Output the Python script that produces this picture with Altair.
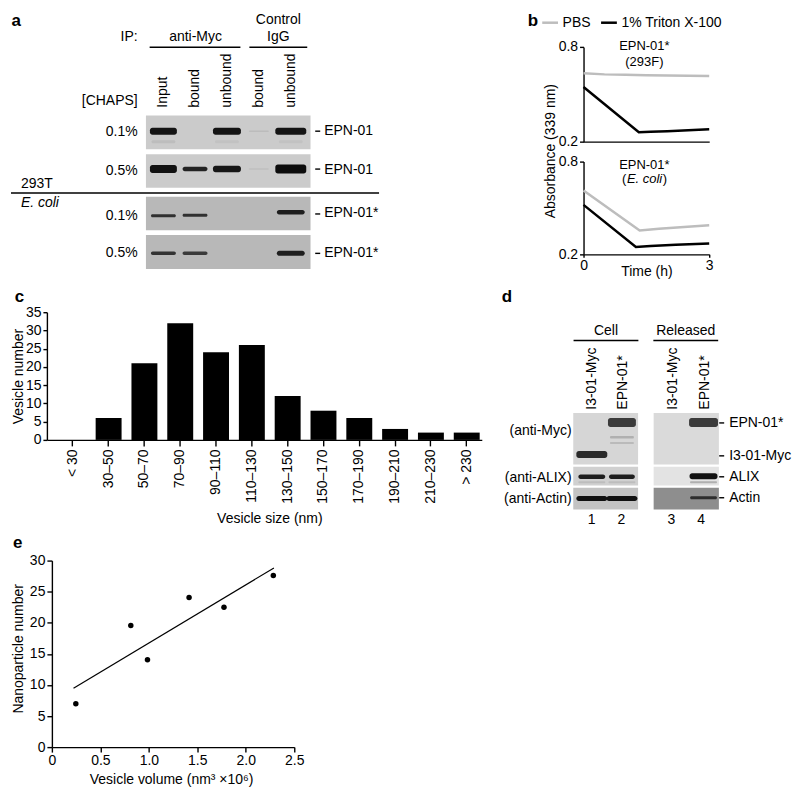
import altair as alt
import pandas as pd

FONT = "Liberation Sans"
FS = 14

# ================= DATA =================
# ---- panel b : absorbance (339 nm) vs time (h) ----
B_SERIES = ["PBS", "1% Triton X-100"]
b_top_pbs_t = [0, 0.5, 1.0, 1.5, 2.0, 2.5, 3.0]
b_top_pbs_abs = [0.633, 0.626, 0.623, 0.621, 0.619, 0.618, 0.616]
b_top_tx_t = [0, 1.32, 1.6, 2.0, 2.5, 3.0]
b_top_tx_abs = [0.546, 0.259, 0.262, 0.266, 0.272, 0.278]
b_bot_pbs_t = [0, 1.34, 1.8, 2.4, 3.0]
b_bot_pbs_abs = [0.613, 0.355, 0.365, 0.377, 0.388]
b_bot_tx_t = [0, 1.25, 1.6, 2.2, 3.0]
b_bot_tx_abs = [0.520, 0.248, 0.254, 0.262, 0.270]

# ---- panel c : vesicle size histogram ----
size_bins = ["< 30", "30–50", "50–70", "70–90", "90–110", "110–130", "130–150",
             "150–170", "170–190", "190–210", "210–230", "> 230"]
vesicle_counts = [0, 6, 21, 32, 24, 26, 12, 8, 6, 3, 2, 2]

# ---- panel e : nanoparticles vs vesicle volume ----
vesicle_volume = [0.247, 0.814, 0.986, 1.415, 1.775, 2.284]
nanoparticle_number = [6.97, 19.56, 14.04, 24.05, 22.5, 27.59]

# ---- panel a : blot annotations and band intensities ----
a_lane_names = ["Input", "bound", "unbound", "bound", "unbound"]
a_chaps = ["0.1%", "0.5%", "0.1%", "0.5%"]
a_band_names = ["EPN-01", "EPN-01", "EPN-01*", "EPN-01*"]
a_band_row = [0, 0, 0, 0, 0, 0, 0, 1, 1, 1, 1, 1, 2, 2, 2, 3, 3, 3]
a_band_lane = [0, 2, 3, 4, 0, 2, 4, 0, 1, 2, 3, 4, 0, 1, 4, 0, 1, 4]
a_band_shade = ["#141414", "#141414", "#bcbcbc", "#141414", "#bdbdbd", "#c2c2c2", "#c2c2c2",
                "#111111", "#222222", "#161616", "#c0c0c0", "#0c0c0c",
                "#303030", "#303030", "#1e1e1e", "#333333", "#3a3a3a", "#1e1e1e"]

# ---- panel d : blot annotations and band intensities ----
d_lane_names = ["I3-01-Myc", "EPN-01*", "I3-01-Myc", "EPN-01*"]
d_lane_numbers = ["1", "2", "3", "4"]
d_row_names = ["(anti-Myc)", "(anti-ALIX)", "(anti-Actin)"]
d_band_names = ["EPN-01*", "I3-01-Myc", "ALIX", "Actin"]
d_band_lane = [0, 1, 1, 1, 3, 0, 1, 3, 0, 1, 3, 0, 1, 3]
d_band_shade = ["#2a2a2a", "#3b3b3b", "#b0b0b0", "#bababa", "#3b3b3b",
                "#1e1e1e", "#1e1e1e", "#121212", "#bdbdbd", "#bdbdbd", "#b0b0b0",
                "#111111", "#111111", "#2e2e2e"]

# ================= LAYOUT (page pixel units for blot drawings) =================
A_LANE_X = [160.8, 192.5, 224.5, 256.5, 288.5]
A_STRIP_X = (143.3, 308.3)
A_STRIP_Y = [(111.7, 145.7), (150.7, 184.3), (193.3, 226.7), (231.7, 265.7)]
A_STRIP_FILL = ["#cbcbcb", "#cbcbcb", "#b8b8b8", "#b8b8b8"]
A_ROW_Y = [127.5, 165.5, 210.5, 250.0]
A_BAND_W = [27, 28, 20, 31, 24, 24, 24, 27, 25, 28, 20, 31, 25, 25, 28, 25, 25, 28]
A_BAND_H = [7, 7, 1.5, 7, 3, 3, 3, 8, 4.5, 6.5, 1.5, 9, 3, 3, 4.5, 3.5, 3.5, 5]
A_BAND_DY = [0, 0, 0, 0, 10.5, 10.5, 10.5, 0, 0, 0, 0, 0, 1.8, 1.3, -1.7, 0, 0, 0]

D_LANE_X = [590.3, 620.5, 671.0, 702.3]
D_STRIPS_X = [(571.7, 636.7), (652.3, 717.7)]
D_STRIPS_Y = [(410, 461.7), (464, 482.7), (485, 506.7)]
D_STRIP_FILL = [["#d6d6d6", "#dadada"], ["#d0d0d0", "#e3e3e3"], ["#c3c3c3", "#8e8e8e"]]
D_BAND_Y = [451.7, 419.5, 434.3, 440.0, 419.5, 474, 474, 473.5, 479.5, 479.5, 479.5, 495.7, 495.7, 495.0]
D_BAND_W = [31, 28, 24, 24, 29, 27, 26, 28, 27, 27, 27, 31, 31, 27]
D_BAND_H = [7, 9, 2.5, 2, 9, 4.5, 4.5, 6, 2, 2, 2, 5, 5, 3]


def text_layer(df, xs, ys, **props):
    base = dict(font=FONT, fontSize=FS, color="black")
    base.update(props)
    return alt.Chart(df).mark_text(**base).encode(
        x=alt.X("x:Q", scale=xs, axis=None),
        y=alt.Y("y:Q", scale=ys, axis=None),
        text="t:N",
    )


def rule_layer(df, xs, ys, width=1.4):
    return alt.Chart(df).mark_rule(color="black", strokeWidth=width).encode(
        x=alt.X("x0:Q", scale=xs, axis=None), x2="x1:Q",
        y=alt.Y("y:Q", scale=ys, axis=None),
    )


def rect_layer(df, xs, ys, radius=0):
    return alt.Chart(df).mark_rect(cornerRadius=radius).encode(
        x=alt.X("x0:Q", scale=xs, axis=None), x2="x1:Q",
        y=alt.Y("y0:Q", scale=ys, axis=None), y2="y1:Q",
        fill=alt.Fill("c:N", scale=None),
    )


def fixed_text(t, x, y, **props):
    base = dict(font=FONT, fontSize=FS, color="black")
    base.update(props)
    return alt.Chart(pd.DataFrame({"t": [t]})).mark_text(**base).encode(
        x=alt.value(x), y=alt.value(y), text="t:N")


def anchor(x, y):
    # invisible 1px box that fixes the top extent of a row
    return alt.Chart(pd.DataFrame({"v": [0]})).mark_rect(opacity=0).encode(
        x=alt.value(x), x2=alt.value(x + 1), y=alt.value(y), y2=alt.value(y + 1))


def spacer(w, h):
    return alt.Chart(pd.DataFrame({"v": [0]})).mark_point(opacity=0).encode(
        x=alt.value(0), y=alt.value(0)).properties(width=w, height=h)


BOLD = dict(align="left", baseline="alphabetic", fontWeight="bold", fontSize=17)

# ================= PANEL A =================
AX = alt.Scale(domain=[8, 395], nice=False, zero=False)
AY = alt.Scale(domain=[8, 276], nice=False, zero=False, reverse=True)

a_strips = pd.DataFrame({
    "x0": [A_STRIP_X[0]] * 4, "x1": [A_STRIP_X[1]] * 4,
    "y0": [s[0] for s in A_STRIP_Y], "y1": [s[1] for s in A_STRIP_Y],
    "c": A_STRIP_FILL,
})
a_bands = pd.DataFrame({
    "x0": [A_LANE_X[l] - w / 2 for l, w in zip(a_band_lane, A_BAND_W)],
    "x1": [A_LANE_X[l] + w / 2 for l, w in zip(a_band_lane, A_BAND_W)],
    "y0": [A_ROW_Y[r] + dy - h / 2 for r, h, dy in zip(a_band_row, A_BAND_H, A_BAND_DY)],
    "y1": [A_ROW_Y[r] + dy + h / 2 for r, h, dy in zip(a_band_row, A_BAND_H, A_BAND_DY)],
    "c": a_band_shade,
})
a_rules = pd.DataFrame({
    "x0": [147, 247, 8] + [313] * 4,
    "x1": [238, 305, 377] + [318] * 4,
    "y": [43.3, 43.3, 189.5] + A_ROW_Y,
})
a_right_txt = pd.DataFrame({"x": [135, 135] + [135] * 4, "y": [33, 97.5] + [128, 167, 213, 250],
                            "t": ["IP:", "[CHAPS]"] + a_chaps})
a_center_txt = pd.DataFrame({"x": [193, 276, 276], "y": [33, 16, 33], "t": ["anti-Myc", "Control", "IgG"]})
a_left_txt = pd.DataFrame({"x": [18] + [322] * 4, "y": [180, 127, 166, 209.5, 249.5],
                           "t": ["293T"] + a_band_names})
a_ital_txt = pd.DataFrame({"x": [18], "y": [200], "t": ["E. coli"]})
a_rot_txt = pd.DataFrame({"x": A_LANE_X, "y": [104] * 5, "t": a_lane_names})
a_bold_txt = pd.DataFrame({"x": [8.5, 526], "y": [22, 22], "t": ["a", "b"]})

panel_a = alt.layer(
    rect_layer(a_strips, AX, AY),
    rect_layer(a_bands, AX, AY, radius=2.5),
    rule_layer(a_rules, AX, AY),
    text_layer(a_right_txt, AX, AY, align="right", baseline="middle"),
    text_layer(a_center_txt, AX, AY, align="center", baseline="middle"),
    text_layer(a_left_txt, AX, AY, align="left", baseline="middle"),
    text_layer(a_ital_txt, AX, AY, align="left", baseline="middle", fontStyle="italic"),
    text_layer(a_rot_txt, AX, AY, align="left", baseline="middle", angle=270),
    text_layer(a_bold_txt, AX, AY, **BOLD),
).properties(width=387, height=268)

# ================= PANEL B =================
B_COLOR = alt.Color(
    "s:N",
    scale=alt.Scale(domain=B_SERIES, range=["#bdbdbd", "#000000"]),
    legend=alt.Legend(orient="none", legendX=531, legendY=1, direction="horizontal", title=None,
                      symbolType="stroke", symbolStrokeWidth=2.5, symbolSize=250,
                      labelFontSize=FS, labelFont=FONT, labelColor="black", labelOffset=3,
                      columnPadding=4, padding=0),
)
BFS = 13


def b_panel(pt, pa, tt, ta, bottom):
    df = pd.DataFrame({"t": pt + tt, "a": pa + ta,
                       "s": [B_SERIES[0]] * len(pt) + [B_SERIES[1]] * len(tt)})
    if bottom:
        xaxis = alt.Axis(values=[0, 3], tickSize=3, labelPadding=1, labelFlush=False,
                         title="Time (h)", titleX=63, titleY=21, titleBaseline="alphabetic",
                         titleAlign="center")
        yaxis = alt.Axis(values=[0.2, 0.8], format=".1f", tickSize=4, labelPadding=2,
                         title="Absorbance (339 nm)", titleAngle=270, titleX=-29, titleY=-11,
                         titleBaseline="alphabetic", titleAlign="center")
    else:
        xaxis = alt.Axis(labels=False, ticks=False, title=None)
        yaxis = alt.Axis(values=[0.2, 0.8], format=".1f", tickSize=4, labelPadding=2, title=None)
    lines = alt.Chart(df).mark_line(strokeWidth=2.5).encode(
        x=alt.X("t:Q", scale=alt.Scale(domain=[0, 3], nice=False), axis=xaxis),
        y=alt.Y("a:Q", scale=alt.Scale(domain=[0.2, 0.8], nice=False, zero=False), axis=yaxis),
        color=B_COLOR,
    )
    if bottom:
        notes = [fixed_text("EPN-01*", 61, 3.5, align="center", baseline="middle", fontSize=BFS),
                 fixed_text("(", 43, 17.5, align="right", baseline="middle", fontSize=BFS),
                 fixed_text("E. coli", 43.5, 17.5, align="left", baseline="middle",
                            fontStyle="italic", fontSize=BFS),
                 fixed_text(")", 79.5, 17.5, align="left", baseline="middle", fontSize=BFS)]
        h = 93
    else:
        notes = [fixed_text("EPN-01*", 61, -0.7, align="center", baseline="middle", fontSize=BFS),
                 fixed_text("(293F)", 61, 15.3, align="center", baseline="middle", fontSize=BFS)]
        h = 95
    return alt.layer(lines, *notes).properties(width=126, height=h)


panel_b = alt.vconcat(
    spacer(126, 15),
    b_panel(b_top_pbs_t, b_top_pbs_abs, b_top_tx_t, b_top_tx_abs, False),
    b_panel(b_bot_pbs_t, b_bot_pbs_abs, b_bot_tx_t, b_bot_tx_abs, True),
    spacing=20, bounds="flush",
)

# ================= PANEL C =================
dfc = pd.DataFrame({"bin": size_bins, "n": vesicle_counts})
bars = alt.Chart(dfc).mark_bar(color="black").encode(
    x=alt.X("bin:N", sort=size_bins,
            scale=alt.Scale(paddingInner=0.276, paddingOuter=0.21, align=0.86),
            axis=alt.Axis(labelAngle=270, tickSize=6, labelPadding=3, labelOverlap=False,
                          title="Vesicle size (nm)", titleX=223, titleY=83,
                          titleBaseline="alphabetic", titleAlign="center")),
    y=alt.Y("n:Q", scale=alt.Scale(domain=[0, 35], nice=False),
            axis=alt.Axis(values=list(range(0, 36, 5)), tickSize=4, labelPadding=2,
                          labelOverlap=False,
                          title="Vesicle number", titleAngle=270, titleX=-24, titleY=64,
                          titleBaseline="alphabetic", titleAlign="center")),
)
panel_c = alt.layer(
    bars,
    fixed_text("c", -32.3, -10.7, **BOLD),
).properties(width=436, height=128)

# ================= PANEL D =================
DX = alt.Scale(domain=[572, 718], nice=False, zero=False)
DY = alt.Scale(domain=[309, 526], nice=False, zero=False, reverse=True)

d_strips = pd.DataFrame({
    "x0": [sx[0] for sy in D_STRIPS_Y for sx in D_STRIPS_X],
    "x1": [sx[1] for sy in D_STRIPS_Y for sx in D_STRIPS_X],
    "y0": [sy[0] for sy in D_STRIPS_Y for sx in D_STRIPS_X],
    "y1": [sy[1] for sy in D_STRIPS_Y for sx in D_STRIPS_X],
    "c": [c for row in D_STRIP_FILL for c in row],
})
d_bands = pd.DataFrame({
    "x0": [D_LANE_X[l] - w / 2 for l, w in zip(d_band_lane, D_BAND_W)],
    "x1": [D_LANE_X[l] + w / 2 for l, w in zip(d_band_lane, D_BAND_W)],
    "y0": [y - h / 2 for y, h in zip(D_BAND_Y, D_BAND_H)],
    "y1": [y + h / 2 for y, h in zip(D_BAND_Y, D_BAND_H)],
    "c": d_band_shade,
})
D_LABEL_Y = [420, 453, 474, 495]
d_rules = pd.DataFrame({
    "x0": [572, 652] + [718] * 4,
    "x1": [637, 717] + [723] * 4,
    "y": [337.3, 337.3] + D_LABEL_Y,
})
d_center_txt = pd.DataFrame({"x": [604.5, 684.5] + [590, 620, 670, 700],
                             "y": [328, 328] + [517.7] * 4,
                             "t": ["Cell", "Released"] + d_lane_numbers})
d_right_txt = pd.DataFrame({"x": [570] * 3, "y": [428, 475, 496], "t": d_row_names})
d_left_txt = pd.DataFrame({"x": [728] * 4, "y": D_LABEL_Y, "t": d_band_names})
d_rot_txt = pd.DataFrame({"x": [590, 621.7, 671.7, 703.3], "y": [406.7] * 4, "t": d_lane_names})
d_bold_txt = pd.DataFrame({"x": [500], "y": [298.3], "t": ["d"]})

panel_d = alt.layer(
    anchor(0, -29),
    rect_layer(d_strips, DX, DY),
    rect_layer(d_bands, DX, DY, radius=2.5),
    rule_layer(d_rules, DX, DY),
    text_layer(d_center_txt, DX, DY, align="center", baseline="middle"),
    text_layer(d_right_txt, DX, DY, align="right", baseline="middle"),
    text_layer(d_left_txt, DX, DY, align="left", baseline="middle"),
    text_layer(d_rot_txt, DX, DY, align="left", baseline="middle", angle=270),
    text_layer(d_bold_txt, DX, DY, **BOLD),
).properties(width=146, height=217)

# ================= PANEL E =================
dfe = pd.DataFrame({"v": vesicle_volume, "n": nanoparticle_number})
E_XAXIS = alt.Axis(values=[0, 0.5, 1, 1.5, 2, 2.5],
                   labelExpr="datum.value == 0 ? '0' : format(datum.value, '.1f')",
                   tickSize=5, labelPadding=1, labelFlush=False, labelOverlap=False,
                   title="Vesicle volume (nm³ ×10⁶)", titleX=119.5, titleY=36,
                   titleBaseline="alphabetic", titleAlign="center")
E_YAXIS = alt.Axis(values=[0, 5, 10, 15, 20, 25, 30], tickCount=7, tickSize=5, labelPadding=2,
                   labelOverlap=False,
                   title="Nanoparticle number", titleAngle=270, titleX=-29.3, titleY=88,
                   titleBaseline="alphabetic", titleAlign="center")
EXS = alt.Scale(domain=[0, 2.5], nice=False)
EYS = alt.Scale(domain=[0, 30], nice=False)
pts = alt.Chart(dfe).mark_circle(size=30, color="black", opacity=1).encode(
    x=alt.X("v:Q", scale=EXS, axis=E_XAXIS),
    y=alt.Y("n:Q", scale=EYS, axis=E_YAXIS),
)
fit = alt.Chart(dfe).transform_regression("v", "n", extent=[0.223, 2.29]).mark_line(
    color="black", strokeWidth=1.2).encode(
    x=alt.X("v:Q", scale=EXS, axis=E_XAXIS),
    y=alt.Y("n:Q", scale=EYS, axis=E_YAXIS),
)
panel_e = alt.layer(
    pts, fit,
    anchor(0, -28),
    fixed_text("e", -39, -13, **BOLD),
).properties(width=243, height=187)

# ================= ASSEMBLY =================
row1 = alt.hconcat(panel_a, panel_b, spacing=187, bounds="flush")
row2 = alt.hconcat(spacer(1, 1), panel_c, spacer(22, 1), panel_d, spacing=35, bounds="flush")
row3 = alt.hconcat(spacer(1, 1), panel_e, spacing=40, bounds="flush")

chart = alt.vconcat(row1, row2, row3, spacing=4).properties(
    padding=0
).configure_view(strokeWidth=0).configure_axis(
    domainColor="black", tickColor="black", labelColor="black", titleColor="black",
    labelFont=FONT, titleFont=FONT, labelFontSize=FS, titleFontSize=FS,
    titleFontWeight="normal", grid=False, domainWidth=1.4, tickWidth=1.4,
)

chart.save("out.html", embed_options={"renderer": "svg", "actions": False})
